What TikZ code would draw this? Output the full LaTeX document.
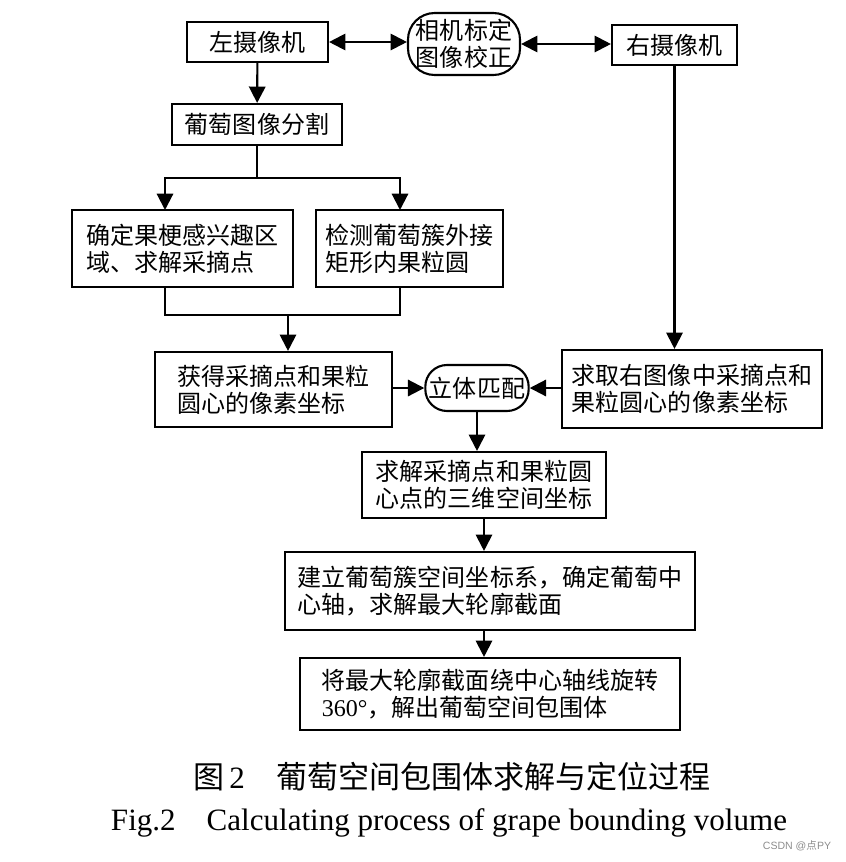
\documentclass[tikz,border=0pt]{standalone}
\usepackage{fontspec}
\setmainfont{Liberation Serif}
\setsansfont{Liberation Sans}
\newfontfamily\cjk{Noto Sans CJK SC}
\usetikzlibrary{arrows.meta}

\begin{document}
\begin{tikzpicture}[x=0.03cm,y=-0.03cm,
    box/.style={draw,line width=1.8pt,inner sep=0pt,align=left,font=\cjk\fontsize{20.5}{23}\selectfont},
    line/.style={line width=1.8pt},
    arr/.style={line width=1.8pt,-{Triangle[length=14pt,width=14pt]}},
    dbl/.style={line width=1.8pt,{Triangle[length=14pt,width=14pt]}-{Triangle[length=14pt,width=14pt]}}]
\useasboundingbox (0,0) rectangle (846,862);
\node[box,minimum width=4.23cm,minimum height=1.2cm] (lcam) at (257.5,42) {左摄像机};
\node[box,rounded corners=0.8cm,minimum width=3.36cm,minimum height=1.86cm] (calib) at (464,44) {相机标定\\图像校正};
\node[box,minimum width=3.75cm,minimum height=1.2cm] (rcam) at (674.5,45) {右摄像机};
\node[box,minimum width=5.1cm,minimum height=1.23cm] (seg) at (257,124.5) {葡萄图像分割};
\node[box,minimum width=6.63cm,minimum height=2.31cm] (roi) at (182.5,248.5) {确定果梗感兴趣区\\域、求解采摘点};
\node[box,minimum width=5.61cm,minimum height=2.31cm] (circ) at (409.5,248.5) {检测葡萄簇外接\\矩形内果粒圆};
\node[box,minimum width=7.11cm,minimum height=2.25cm] (pix) at (273.5,389.5) {获得采摘点和果粒\\圆心的像素坐标};
\node[box,rounded corners=0.65cm,minimum width=3.1cm,minimum height=1.38cm] (match) at (477,388) {立体匹配};
\node[box,minimum width=7.8cm,minimum height=2.34cm] (rpix) at (692,389) {求取右图像中采摘点和\\果粒圆心的像素坐标};
\node[box,minimum width=7.32cm,minimum height=1.98cm] (coord3) at (484,485) {求解采摘点和果粒圆\\心点的三维空间坐标};
\node[box,minimum width=12.3cm,minimum height=2.34cm] (frame) at (490,591) {建立葡萄簇空间坐标系，确定葡萄中\\心轴，求解最大轮廓截面};
\node[box,minimum width=11.4cm,minimum height=2.16cm] (rot) at (490,694) {将最大轮廓截面绕中心轴线旋转\\{\rmfamily 360°}，解出葡萄空间包围体};
\node[font=\fontsize{26.5}{30}\selectfont] (cap1) at (452,777) {{\cjk 图}\,2\quad{\cjk 葡萄空间包围体求解与定位过程}};
\node[font=\fontsize{26.5}{30}\selectfont] (cap2) at (449,823) {Fig.2\quad Calculating process of grape bounding volume};
\node[font=\sffamily\fontsize{9}{10}\selectfont,text=black!45] (mark) at (797,846) {CSDN @{\cjk 点}PY};
\coordinate (fork) at (257,178);
\coordinate (roiin) at (165,210);
\coordinate (circin) at (400,210);
\coordinate (join) at (288,315);
\draw[dbl] (lcam.east) -- (lcam.east -| calib.west);
\draw[dbl] (calib.east) -- (calib.east -| rcam.west);
\draw[arr] (lcam) -- (seg);
\draw[line] (seg) -- (fork);
\draw[arr] (fork) -| (roiin);
\draw[arr] (fork) -| (circin);
\draw[line] (roiin |- roi.south) |- (join) -| (circin |- circ.south);
\draw[arr] (join) -- (join |- pix.north);
\draw[arr] (rcam.south) -- (rcam.south |- rpix.north);
\draw[arr] (pix.east |- match) -- (match.west);
\draw[arr] (rpix.west |- match) -- (match.east);
\draw[arr] (match.south) -- (match.south |- coord3.north);
\draw[arr] (coord3.south) -- (coord3.south |- frame.north);
\draw[arr] (coord3.south |- frame.south) -- (coord3.south |- rot.north);
\end{tikzpicture}
\end{document}
